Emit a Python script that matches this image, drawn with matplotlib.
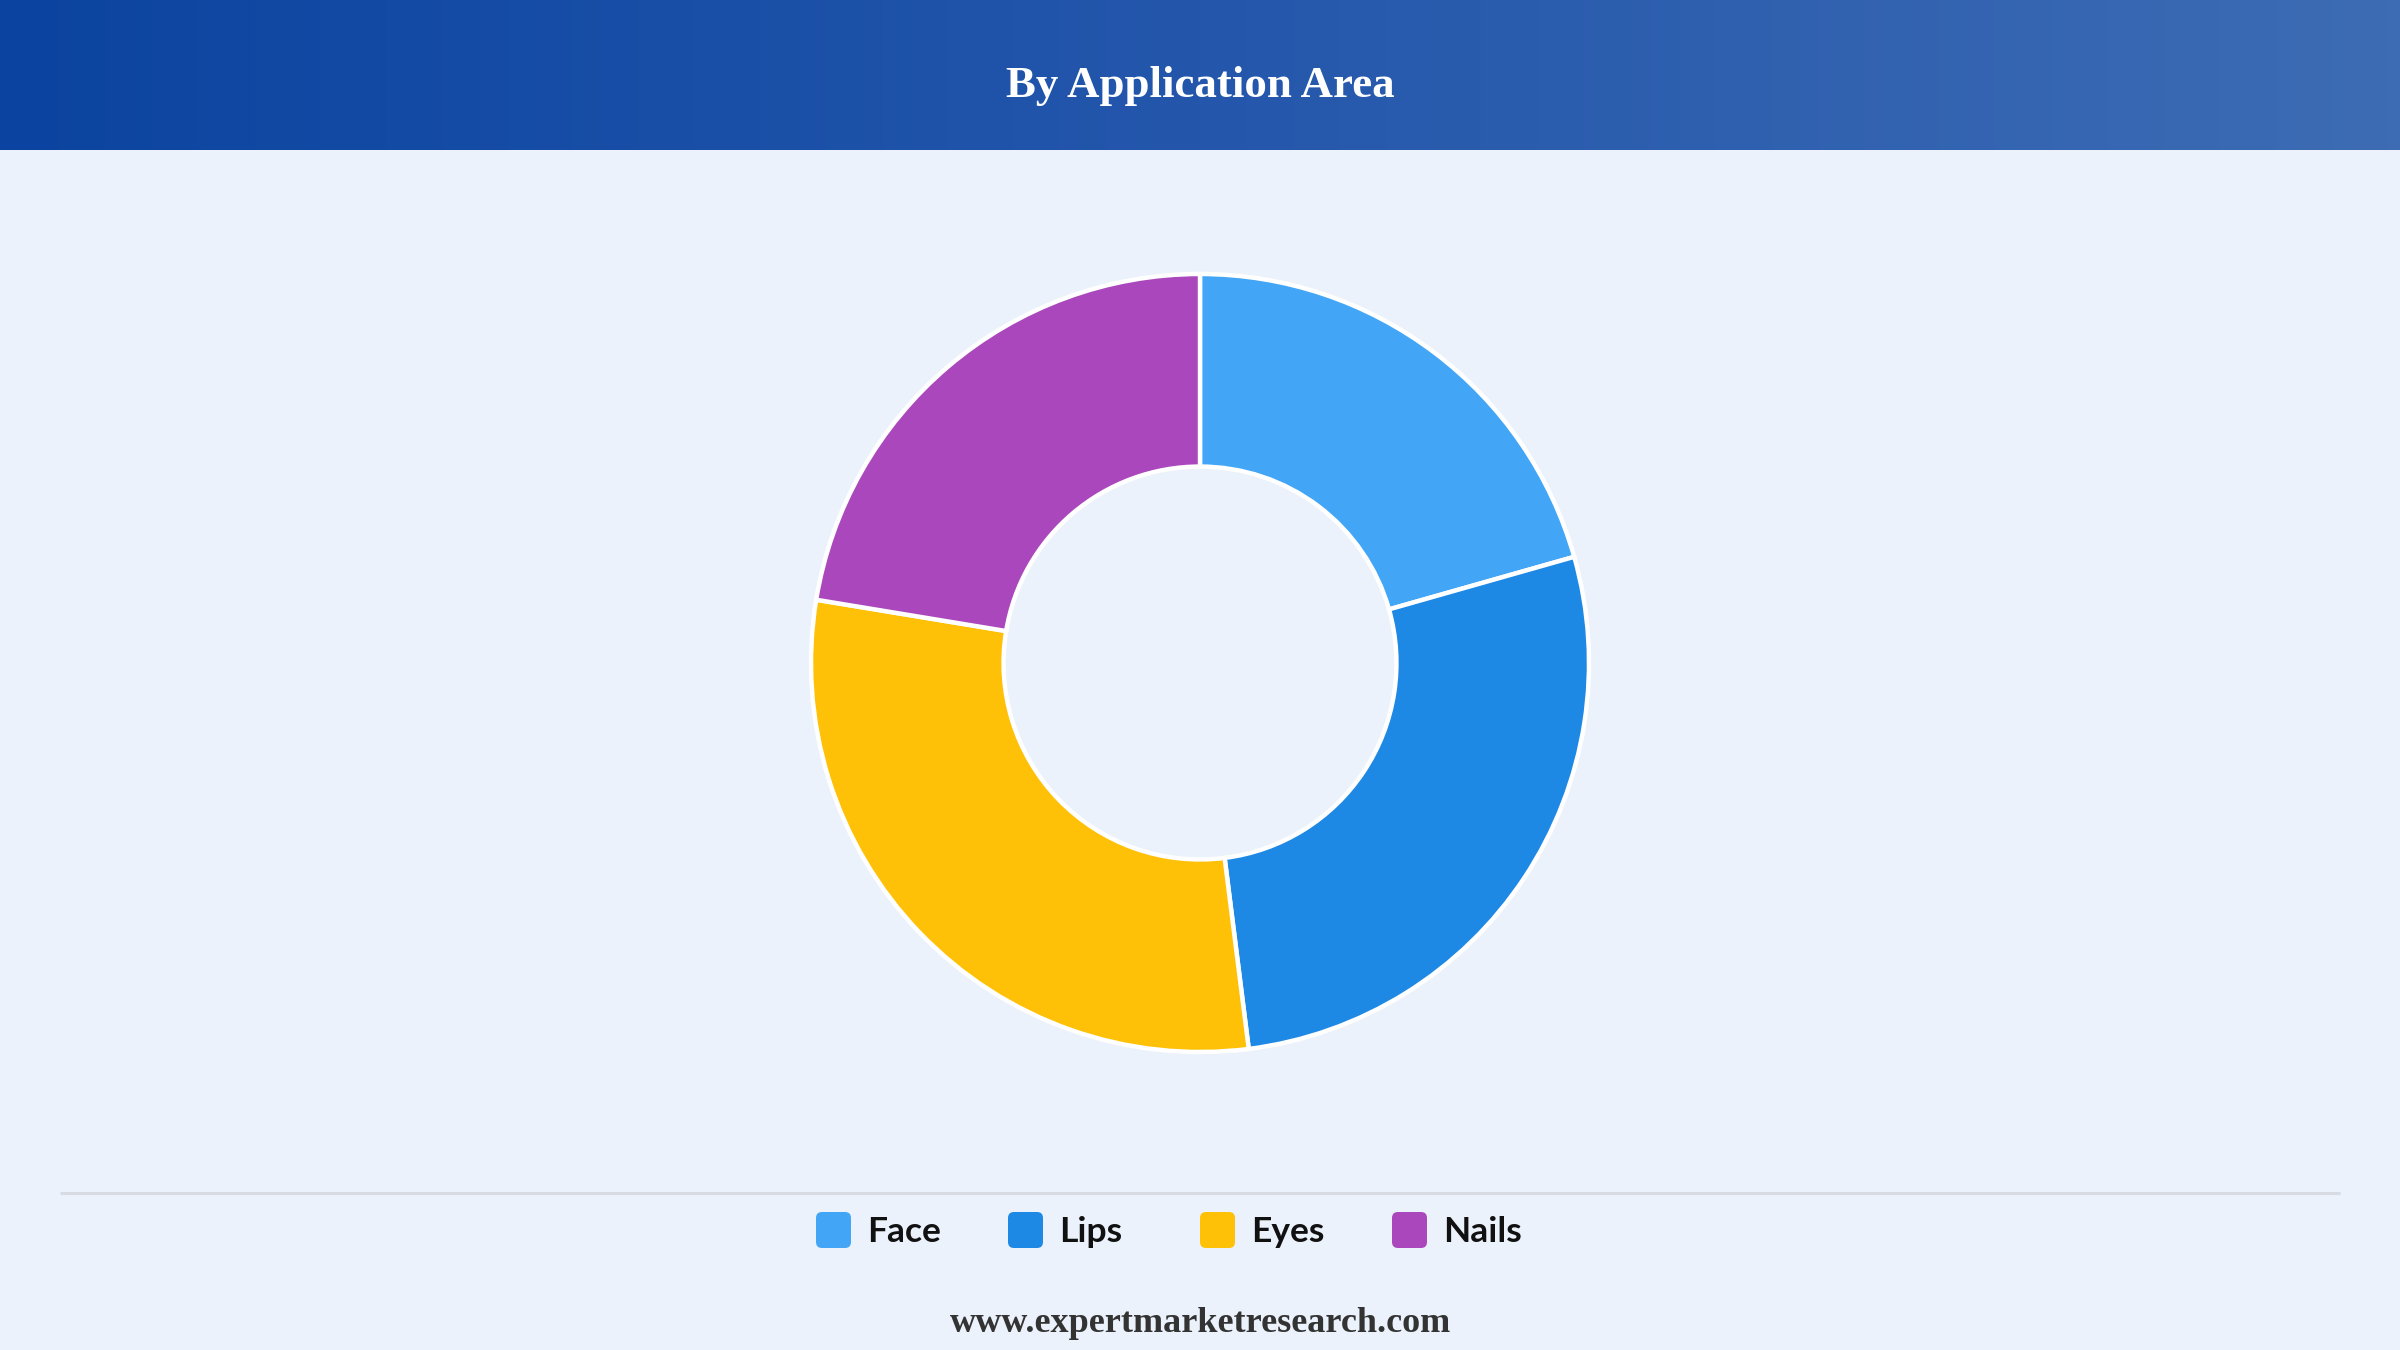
import matplotlib
matplotlib.use("Agg")
import matplotlib.pyplot as plt
import numpy as np
from matplotlib.colors import LinearSegmentedColormap
from matplotlib.patches import FancyBboxPatch

# ---- data ----
categories = ["Face", "Lips", "Eyes", "Nails"]
shares = [20.6, 27.4, 29.6, 22.4]
colors = ["#42A5F5", "#1E88E5", "#FFC107", "#AB47BC"]
title_text = "By Application Area"
footer_text = "www.expertmarketresearch.com"

W, H = 2400, 1350
BG = "#EBF2FB"
fig = plt.figure(figsize=(24, 13.5), dpi=100, facecolor=BG)

# background / overlay axes in pixel coordinates
bg = fig.add_axes([0, 0, 1, 1])
bg.set_facecolor(BG)
cmap = LinearSegmentedColormap.from_list("hdr", ["#0B44A0", "#2457AC", "#3D6CB4"])
bg.imshow(np.linspace(0, 1, 512)[None, :], cmap=cmap, extent=[0, W, 150, 0],
          aspect="auto", zorder=0, interpolation="bilinear")
bg.set_xlim(0, W)
bg.set_ylim(H, 0)
bg.axis("off")

bg.text(W / 2, 97, title_text, ha="center", va="baseline", color="white",
        fontsize=32.3, fontweight="bold", family="Liberation Serif")

# separator line
bg.plot([60, 2340], [1193, 1193], color="#D8DCE2", lw=2.2, solid_capstyle="butt")

# legend
for i, (cat, col) in enumerate(zip(categories, colors)):
    x0 = 816 + 192 * i
    bg.add_patch(FancyBboxPatch((x0, 1212), 35, 36,
                                boxstyle="round,pad=0,rounding_size=6",
                                fc=col, ec="none"))
    bg.text(x0 + 51, 1242, cat, ha="left", va="baseline", color="#111111",
            fontsize=25.5, fontweight="bold", family=["Lato", "DejaVu Sans"])

bg.text(W / 2, 1332, footer_text, ha="center", va="baseline", color="#333333",
        fontsize=26, fontweight="bold", family="Liberation Serif")

# donut
cx, cy, R = 1200, 663, 389
pad = 1.03
size = 2 * R * pad
ax = fig.add_axes([(cx - R * pad) / W, 1 - (cy + R * pad) / H, size / W, size / H])
ax.pie(shares, colors=colors, startangle=90, counterclock=False, radius=1,
       wedgeprops=dict(width=0.495, edgecolor="white", linewidth=3.2))
ax.set_xlim(-pad, pad)
ax.set_ylim(-pad, pad)
ax.set_aspect("equal")
ax.axis("off")

fig.savefig("out.png", dpi=100, facecolor=BG)
